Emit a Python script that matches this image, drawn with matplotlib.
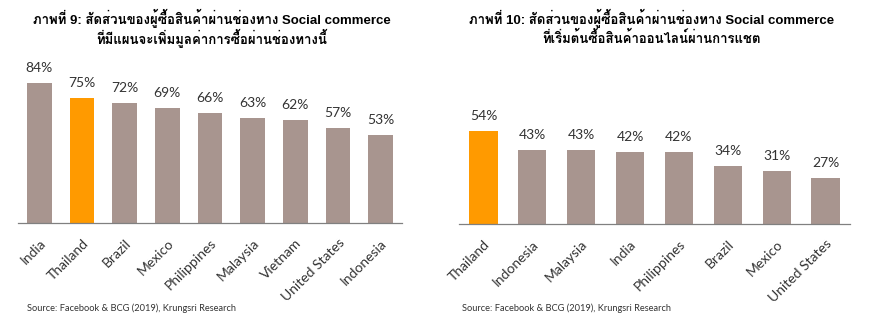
import matplotlib
matplotlib.use("Agg")
import matplotlib.pyplot as plt

# chart 9
countries_9 = ["India", "Thailand", "Brazil", "Mexico", "Philippines",
               "Malaysia", "Vietnam", "United States", "Indonesia"]
values_9 = [84, 75, 72, 69, 66, 63, 62, 57, 53]
title_9 = ["ภาพที่ 9: สัดส่วนของผู้ซื้อสินค้าผ่านช่องทาง Social commerce",
           "ที่มีแผนจะเพิ่มมูลค่าการซื้อผ่านช่องทางนี้"]

# chart 10
countries_10 = ["Thailand", "Indonesia", "Malaysia", "India", "Philippines",
                "Brazil", "Mexico", "United States"]
values_10 = [54, 43, 43, 42, 42, 34, 31, 27]
title_10 = ["ภาพที่ 10: สัดส่วนของผู้ซื้อสินค้าผ่านช่องทาง Social commerce",
            "ที่เริ่มต้นซื้อสินค้าออนไลน์ผ่านการแชต"]

source = "Source: Facebook & BCG (2019), Krungsri Research"

GREY = "#A8958F"
ORANGE = "#FF9A00"
TXT = "#333333"
body_font = ["Lato", "DejaVu Sans"]
title_font = ["Liberation Sans", "Loma", "Noto Sans Thai Looped"]

fig = plt.figure(figsize=(8.7, 3.21), dpi=100)


def draw(ax, names, vals, title, tx):
    cols = [ORANGE if n == "Thailand" else GREY for n in names]
    x = range(len(names))
    ax.bar(x, vals, width=0.58, color=cols)
    for i, v in zip(x, vals):
        ax.annotate(f"{v}%", (i, v), xytext=(0, 6.5), textcoords="offset points",
                    ha="center", va="bottom", fontsize=10, color=TXT,
                    family=body_font)
    ax.set_xlim(-0.5, len(names) - 0.5)
    ax.set_ylim(0, 100)
    ax.set_yticks([])
    for s in ["top", "right", "left"]:
        ax.spines[s].set_visible(False)
    ax.spines["bottom"].set_color("#808080")
    ax.spines["bottom"].set_linewidth(0.9)
    ax.set_xticks(list(x))
    ax.set_xticklabels(names, rotation=45, ha="right", rotation_mode="anchor",
                       fontsize=10, color=TXT, family=body_font)
    ax.tick_params(axis="x", length=0, pad=10)
    fig.text(tx, 1 - 18 / 321, title[0], ha="center", va="center", fontsize=9.5,
             fontweight="bold", family=title_font)
    fig.text(tx, 1 - 38 / 321, title[1], ha="center", va="center", fontsize=9.5,
             fontweight="bold", family=title_font)


ax1 = fig.add_axes([18 / 870, 98 / 321, 384 / 870, 166.7 / 321])
draw(ax1, countries_9, values_9, title_9, 212 / 870)
fig.text(27 / 870, 1 - 308 / 321, source, ha="left", va="center", fontsize=6.7,
         color=TXT, family=body_font)

ax2 = fig.add_axes([459 / 870, 97 / 321, 391 / 870, 171.6 / 321])
draw(ax2, countries_10, values_10, title_10, 652 / 870)
fig.text(462 / 870, 1 - 308 / 321, source, ha="left", va="center", fontsize=6.7,
         color=TXT, family=body_font)

fig.savefig("out.png", dpi=100)
